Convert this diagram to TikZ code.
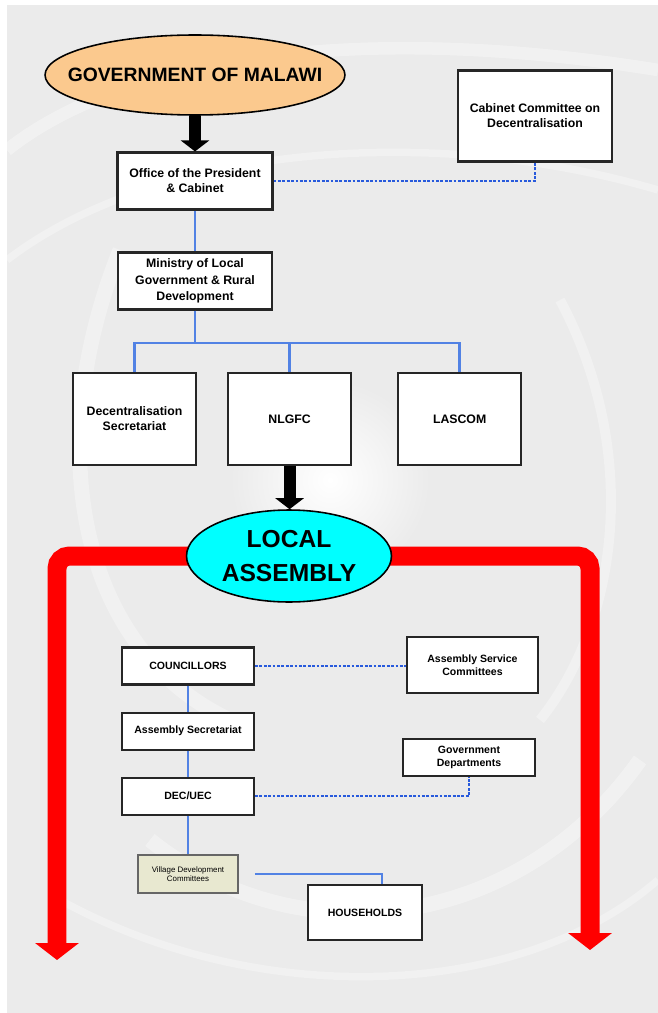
\documentclass[tikz,border=0pt]{standalone}
\usepackage{fontspec}
\setmainfont{Liberation Sans}
\usepackage{tikz}
\usetikzlibrary{positioning, arrows.meta, shapes}

\definecolor{bggray}{RGB}{235,235,235}
\definecolor{govpeach}{RGB}{251,201,142}
\definecolor{lacyan}{RGB}{0,255,255}
\definecolor{bandred}{RGB}{255,0,0}
\definecolor{linkblue}{RGB}{82,130,228}
\definecolor{dotblue}{RGB}{40,90,220}
\definecolor{villbeige}{RGB}{232,232,208}

\begin{document}
\begin{tikzpicture}[x=0.02cm, y=-0.02cm,
	box/.style={rectangle, draw=black!85, line width=1.2pt, fill=white, align=center, inner sep=1pt, font=\fontsize{7}{8.5}\selectfont\bfseries},
	tallbox/.style={box, minimum width=2.46cm, minimum height=1.84cm},
	smallbox/.style={box, minimum width=2.64cm, minimum height=0.74cm, font=\fontsize{6}{7.5}\selectfont\bfseries},
	villbox/.style={box, line width=0.9pt, draw=black!60, fill=villbeige, minimum width=2cm, minimum height=0.76cm, font=\fontsize{4.5}{5.5}\selectfont},
	oval/.style={ellipse, draw=black, line width=0.9pt, align=center, inner ysep=0pt},
	conn/.style={draw=linkblue, line width=1.4pt},
	dots/.style={draw=dotblue, line width=1.4pt, dash pattern=on 1.6pt off 0.9pt},
	bigarrow/.style={draw=black, line width=0.24cm, -{Triangle[width=0.56cm, length=0.22cm]}},
	redband/.style={draw=bandred, line width=0.38cm, rounded corners=0.25cm, {Triangle[width=0.86cm, length=0.34cm]}-{Triangle[width=0.86cm, length=0.34cm]}},
	]

	\useasboundingbox (0,0) rectangle (658,1013);
	\fill[white] (0,0) rectangle (658,1013);
	\fill[bggray] (7,5) rectangle (658,1013);
	\begin{scope}
		\clip (7,5) rectangle (658,1013);
		\shade[inner color=white, outer color=bggray] (330,480) circle (2cm);
		\draw[white, line width=0.25cm, opacity=0.35] (7,150) .. controls (120,60) and (350,20) .. (658,70);
		\draw[white, line width=0.15cm, opacity=0.3] (7,260) .. controls (150,150) and (420,120) .. (658,190);
		\draw[white, line width=0.3cm, opacity=0.3] (120,250) .. controls (40,450) and (80,650) .. (230,720);
		\draw[white, line width=0.2cm, opacity=0.3] (560,300) .. controls (640,450) and (620,620) .. (540,720);
		\draw[white, line width=0.3cm, opacity=0.35] (150,840) .. controls (300,960) and (520,930) .. (640,760);
		\draw[white, line width=0.15cm, opacity=0.3] (60,900) .. controls (260,1010) and (520,1000) .. (658,880);
	\end{scope}

	\node[oval, fill=govpeach, minimum width=6cm, minimum height=1.6cm, inner xsep=-0.6cm, font=\fontsize{11}{13}\selectfont\bfseries] (gov) at (195,75) {GOVERNMENT OF MALAWI};
	\node[box, minimum width=3.1cm, minimum height=1.14cm] (office) at (195,181) {Office of the President\\\& Cabinet};
	\node[box, minimum width=3.08cm, minimum height=1.82cm] (ccd) at (535,116) {Cabinet Committee on\\Decentralisation};
	\node[box, minimum width=3.08cm, minimum height=1.14cm, font=\fontsize{7}{9.5}\selectfont\bfseries] (mlg) at (195,281) {Ministry of Local\\Government \& Rural\\Development};

	\node[tallbox] (ds) at (134.5,419) {Decentralisation\\Secretariat};
	\node[tallbox, right=0.6cm of ds] (nlgfc) {NLGFC};
	\node[tallbox, right=0.9cm of nlgfc] (lascom) {LASCOM};

	\draw[bigarrow] (gov.south) -- (office.north);
	\draw[conn] (office) -- (mlg);
	\draw[dots] (office.east) -| (ccd.south);
	\coordinate (split) at (195,343);
	\foreach \n in {ds, nlgfc, lascom}
		\draw[conn] (mlg.south) -- (split) -| (\n.north);

	\draw[redband] (57,960) -- (57,556) -- (590,556) -- (590,950);
	\node[oval, fill=lacyan, minimum width=4.1cm, minimum height=1.84cm, inner xsep=0pt, font=\fontsize{14}{19}\selectfont\bfseries] (la) at (289,556) {LOCAL\\ASSEMBLY};
	\draw[bigarrow] (nlgfc.south) -- (nlgfc.south |- la.north);

	\node[smallbox] (coun) at (188,666) {COUNCILLORS};
	\node[smallbox, below=0.52cm of coun] (asec) {Assembly Secretariat};
	\node[smallbox, below=0.52cm of asec] (dec) {DEC/UEC};
	\node[smallbox, minimum width=2.62cm, minimum height=1.12cm] (asc) at (472.5,665) {Assembly Service\\Committees};
	\node[smallbox] (gd) at (469,757.5) {Government\\Departments};
	\node[villbox] (vdc) at (188,874) {Village Development\\Committees};
	\node[smallbox, minimum width=2.28cm, minimum height=1.1cm] (hh) at (365,912.5) {HOUSEHOLDS};

	\draw[dots] (coun.east) -- (coun.east -| asc.west);
	\draw[conn] (coun) -- (asec);
	\draw[conn] (asec) -- (dec);
	\draw[dots] (dec.east) -| (gd.south);
	\draw[conn] (dec) -- (vdc);
	\draw[conn] ([xshift=0.32cm]vdc.east) -| ([xshift=0.34cm]hh.north);
\end{tikzpicture}
\end{document}
